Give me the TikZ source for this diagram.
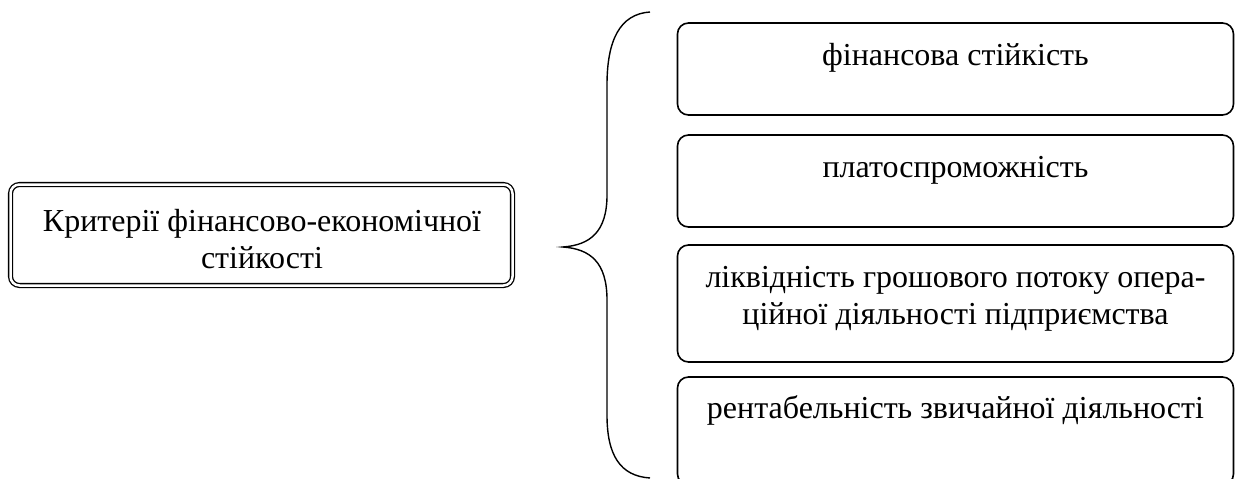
\documentclass[tikz,border=0pt]{standalone}
\usepackage{fontspec}
\setmainfont{Liberation Serif}
\usetikzlibrary{positioning}

\tikzset{
	critbox/.style = {draw, double, double distance = 2.5pt, line width = 1.3pt, rounded corners = 9pt,
		minimum width = 502pt, minimum height = 101pt, inner sep = 0pt},
	itembox/.style = {draw, line width = 1.6pt, rounded corners = 11pt, minimum width = 556pt, inner sep = 0pt},
	itemtext/.style = {align = center, anchor = base, inner sep = 0pt}
}

\begin{document}
\begin{tikzpicture}[x = 1pt, y = -1pt, font = \fontsize{32}{37}\selectfont]

	\clip (0, 0) rectangle (1240, 479);

	% Criteria box

	\node [critbox] (crit) at (261.5, 235) {};
	\node [itemtext] (crittext) at (262, 268) {Критерії фінансово-економічної\\стійкості};

	% Brace

	\draw [line width = 1.4pt] (650, 12) .. controls (620, 14) and (607, 40) .. (607, 85) -- (607, 195)
		.. controls (607, 232) and (590, 245) .. (563, 247)
		.. controls (590, 249) and (607, 262) .. (607, 300) -- (607, 415)
		.. controls (607, 455) and (620, 476) .. (650, 478);

	% Criteria list

	\node [itembox, minimum height = 92pt] (stab) at (955.5, 69) {};
	\node [itemtext, yshift = -43pt] (stabtext) at (stab.north) {фінансова стійкість};

	\node [itembox, minimum height = 92pt] (solv) at (955.5, 181) {};
	\node [itemtext, yshift = -43pt] (solvtext) at (solv.north) {платоспроможність};

	\node [itembox, minimum height = 117pt] (liq) at (955.5, 303.5) {};
	\node [itemtext, yshift = -80pt] (liqtext) at (liq.north) {ліквідність грошового потоку опера-\\ційної діяльності підприємства};

	\node [itembox, minimum height = 108pt] (prof) at (955.5, 431) {};
	\node [itemtext, yshift = -42pt] (proftext) at (prof.north) {рентабельність звичайної діяльності};

\end{tikzpicture}
\end{document}
